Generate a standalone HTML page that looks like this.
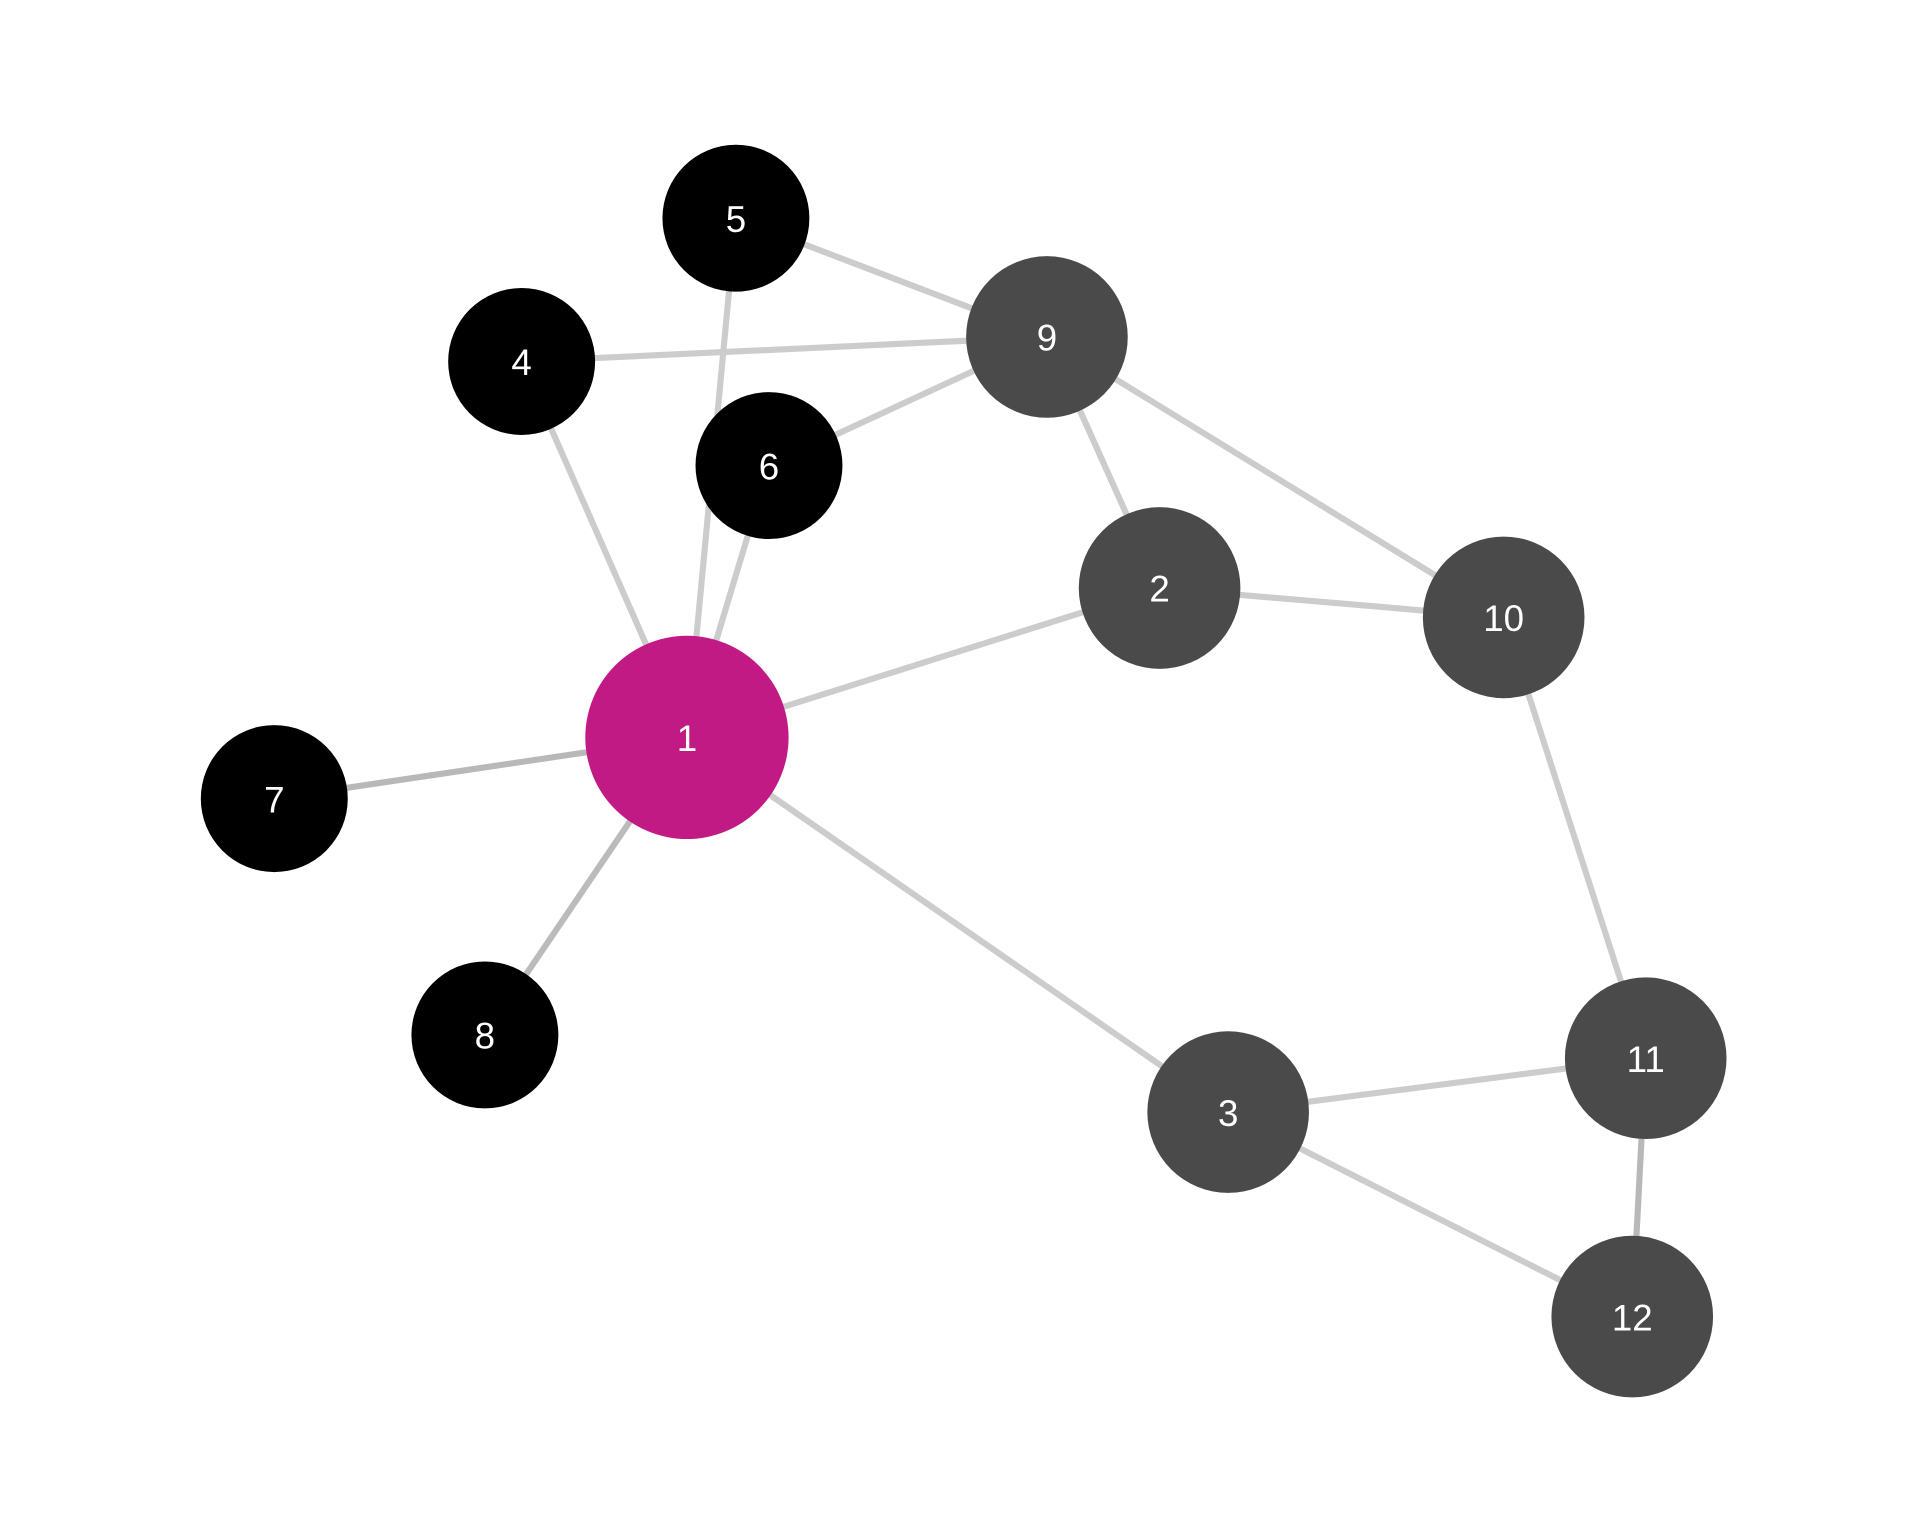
<!DOCTYPE html>
<html><head><meta charset="utf-8"><style>html,body{margin:0;padding:0;background:#fff}svg{display:block}</style></head>
<body>
<svg width="1920" height="1536" viewBox="0 0 1568 1254" xmlns="http://www.w3.org/2000/svg">
<g stroke="#cccccc" stroke-width="5" fill="none">
<line x1="601" y1="178" x2="855" y2="275"/>
<line x1="426" y1="295" x2="855" y2="275"/>
<line x1="628" y1="380" x2="855" y2="275"/>
<line x1="855" y1="275" x2="947" y2="480"/>
<line x1="855" y1="275" x2="1228" y2="504"/>
<line x1="947" y1="480" x2="1228" y2="504"/>
<line x1="561" y1="602" x2="947" y2="480"/>
<line x1="561" y1="602" x2="426" y2="295"/>
<line x1="561" y1="602" x2="601" y2="178"/>
<line x1="561" y1="602" x2="628" y2="380"/>
<line x1="561" y1="602" x2="1003" y2="908"/>
<line x1="1003" y1="908" x2="1344" y2="864"/>
<line x1="1003" y1="908" x2="1333" y2="1075"/>
<line x1="1228" y1="504" x2="1344" y2="864"/>
<line x1="561" y1="602" x2="224" y2="652" stroke="#b8b8b8"/>
<line x1="561" y1="602" x2="396" y2="845" stroke="#bbbbbb"/>
<line x1="1344" y1="864" x2="1333" y2="1075" stroke="#b8b8b8"/>
</g>
<g>
<circle cx="601" cy="178" r="60" fill="#000"/>
<circle cx="426" cy="295" r="60" fill="#000"/>
<circle cx="628" cy="380" r="60" fill="#000"/>
<circle cx="224" cy="652" r="60" fill="#000"/>
<circle cx="396" cy="845" r="60" fill="#000"/>
<circle cx="855" cy="275" r="66" fill="#4a4a4a"/>
<circle cx="947" cy="480" r="66" fill="#4a4a4a"/>
<circle cx="1228" cy="504" r="66" fill="#4a4a4a"/>
<circle cx="1003" cy="908" r="66" fill="#4a4a4a"/>
<circle cx="1344" cy="864" r="66" fill="#4a4a4a"/>
<circle cx="1333" cy="1075" r="66" fill="#4a4a4a"/>
<circle cx="561" cy="602" r="83" fill="#c21a84"/>
</g>
<g fill="#fff" font-family="Liberation Sans, sans-serif" font-size="30" text-anchor="middle" dominant-baseline="central">
<text x="601" y="179">5</text>
<text x="426" y="296">4</text>
<text x="628" y="381">6</text>
<text x="224" y="653">7</text>
<text x="396" y="846">8</text>
<text x="855" y="276">9</text>
<text x="947" y="481">2</text>
<text x="1228" y="505">10</text>
<text x="1003" y="909">3</text>
<text x="1344" y="865">11</text>
<text x="1333" y="1076">12</text>
<text x="561" y="603">1</text>
</g>
</svg>
</body></html>
